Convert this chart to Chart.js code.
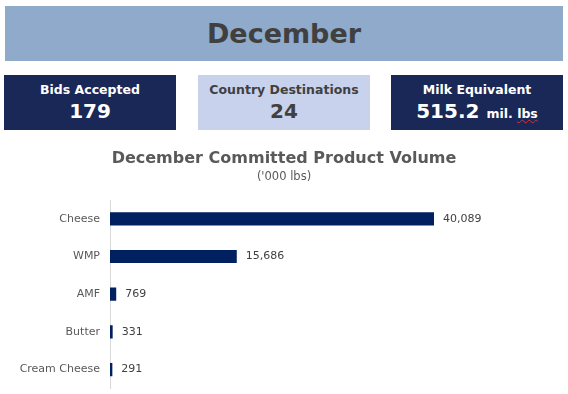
<!DOCTYPE html>
<html>
<head>
<meta charset="utf-8">
<script src="https://cdn.jsdelivr.net/npm/chart.js@4"></script>
<style>
  body { margin: 0; width: 568px; height: 394px; background: #fff; font-family: "DejaVu Sans", sans-serif; position: relative; overflow: hidden; }
  .banner { position: absolute; left: 5px; top: 6px; width: 558px; height: 55px; background: #8FAACB; color: #404040;
    font-weight: bold; font-size: 27px; text-align: center; line-height: 55px; }
  .card { position: absolute; top: 75px; width: 172px; height: 55px; text-align: center; font-weight: bold; }
  .card.dark { background: #1A2857; color: #fff; }
  .card.light { background: #C8D2EC; color: #404040; }
  .card .lbl { font-size: 12.5px; margin-top: 7px; line-height: 16px; }
  .card .val { font-size: 20px; line-height: 24px; margin-top: 1px; }
  .card .unit { font-size: 12.5px; }
  .wavy { text-decoration: underline wavy #E03030; text-decoration-thickness: 1px; }
  #chart { position: absolute; left: 0; top: 140px; }
</style>
</head>
<body>
<div class="banner">December</div>
<div class="card dark" style="left:4px"><div class="lbl">Bids Accepted</div><div class="val">179</div></div>
<div class="card light" style="left:198px"><div class="lbl">Country Destinations</div><div class="val">24</div></div>
<div class="card dark" style="left:391px"><div class="lbl">Milk Equivalent</div><div class="val">515.2 <span class="unit">mil. <span class="wavy">lbs</span></span></div></div>
<canvas id="chart" width="568" height="265"></canvas>
<script>
// 產品類別與數值（千磅）
const products = ["Cheese", "WMP", "AMF", "Butter", "Cream Cheese"];
const volumes = [40089, 15686, 769, 331, 291];

// 在長條末端畫數值
const valueLabels = {
  id: "valueLabels",
  afterDatasetsDraw(chart) {
    const ctx = chart.ctx;
    const meta = chart.getDatasetMeta(0);
    ctx.save();
    ctx.font = "11px 'DejaVu Sans', sans-serif";
    ctx.fillStyle = "#404040";
    ctx.textAlign = "left";
    ctx.textBaseline = "middle";
    meta.data.forEach((bar, i) => {
      ctx.fillText(volumes[i].toLocaleString("en-US"), bar.x + 9, bar.y);
    });
    ctx.restore();
  },
};

const chart = document.querySelector("#chart").getContext("2d");

new Chart(chart, {
  type: "bar",
  data: {
    labels: products,
    datasets: [
      {
        data: volumes,
        backgroundColor: "#002060",
        categoryPercentage: 1,
        barPercentage: 0.35,
      },
    ],
  },
  options: {
    indexAxis: "y",
    responsive: false,
    animation: false,
    layout: { padding: { left: 0, right: 0, top: 0, bottom: 7 } },
    plugins: {
      legend: { display: false },
      tooltip: { enabled: false },
      title: {
        display: true,
        text: "December Committed Product Volume",
        color: "#595959",
        font: { family: "'DejaVu Sans', sans-serif", size: 16, weight: "bold" },
        padding: { top: 9, bottom: 2 },
      },
      subtitle: {
        display: true,
        text: "('000 lbs)",
        color: "#595959",
        font: { family: "'DejaVu Sans', sans-serif", size: 11.5 },
        padding: { top: 0, bottom: 16 },
      },
    },
    scales: {
      x: { display: false, min: 0, max: 56670 },
      y: {
        afterFit: (scale) => { scale.width = 110; },
        grid: { display: true, drawOnChartArea: false, drawTicks: false },
        border: { display: true, color: "#D9D9D9", width: 1 },
        ticks: {
          padding: 10,
          color: "#595959",
          font: { family: "'DejaVu Sans', sans-serif", size: 11 },
        },
      },
    },
  },
  plugins: [valueLabels],
});
</script>
</body>
</html>
